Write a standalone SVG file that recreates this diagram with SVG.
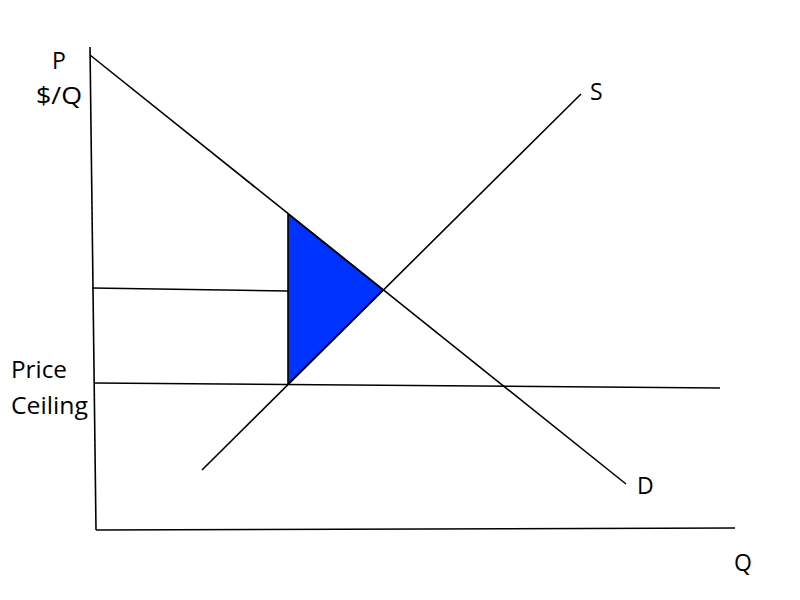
<svg xmlns="http://www.w3.org/2000/svg" width="800" height="600" viewBox="0 0 800 600">
<style>
.ln{stroke:#000;stroke-width:1.6;fill:none}
.t{font-family:"Open Sans","Noto Sans","Liberation Sans",sans-serif;font-size:23px;fill:#000}
</style>
<rect width="800" height="600" fill="#fff"/>
<g id="dwl">
<polygon points="288,214 383,290 288,384" fill="#0033ff" stroke="#000" stroke-width="1.6"/>
</g>
<g id="connectors">
<line class="ln" x1="90" y1="47" x2="96" y2="530"/>
<line class="ln" x1="96" y1="530" x2="735" y2="528"/>
<line class="ln" x1="90" y1="55" x2="626" y2="484"/>
<line class="ln" x1="202" y1="470" x2="581" y2="94"/>
<line class="ln" x1="92" y1="288" x2="288" y2="291"/>
<line class="ln" x1="95" y1="383" x2="720" y2="388"/>
</g>
<g id="labels">
<text class="t" x="52" y="69">P</text>
<text class="t" x="36" y="104" textLength="46" lengthAdjust="spacingAndGlyphs">$/Q</text>
<text class="t" x="11" y="378" textLength="56" lengthAdjust="spacingAndGlyphs">Price</text>
<text class="t" x="11" y="414" textLength="77" lengthAdjust="spacingAndGlyphs">Ceiling</text>
<text class="t" x="590" y="100">S</text>
<text class="t" x="637" y="494">D</text>
<text class="t" x="734" y="571">Q</text>
</g>
</svg>
